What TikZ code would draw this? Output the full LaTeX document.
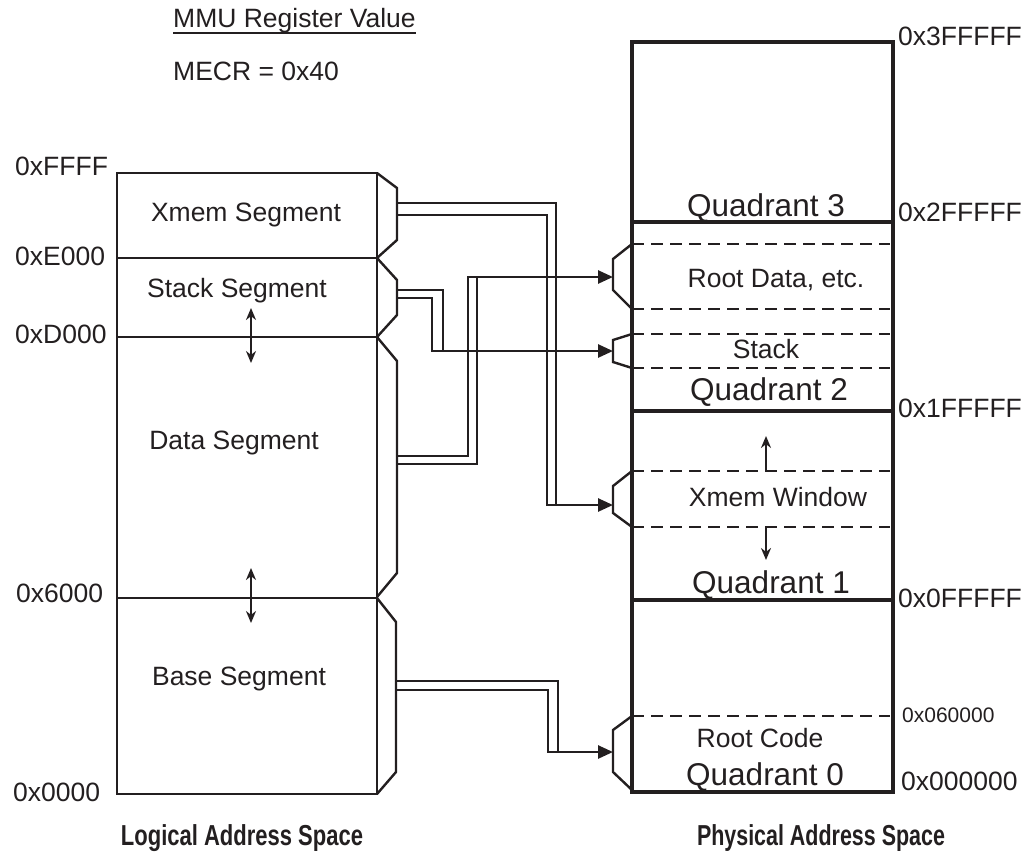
\documentclass[tikz,border=0pt]{standalone}
\usepackage{fontspec}
\setmainfont{Liberation Sans}
\usetikzlibrary{arrows.meta,calc}
\definecolor{ink}{RGB}{35,31,32}
\begin{document}
\begin{tikzpicture}[x=1pt,y=-1pt, color=ink,
  lbl/.style={font=\fontsize{26.5}{30}\selectfont, inner sep=0pt, anchor=base},
  addr/.style={lbl, anchor=base west},
  small/.style={font=\fontsize{21}{24}\selectfont, inner sep=0pt, anchor=base west},
  quad/.style={font=\fontsize{31.5}{36}\selectfont, inner sep=0pt, anchor=base},
  title/.style={font=\fontsize{27.5}{32}\selectfont\bfseries, inner sep=0pt, anchor=base},
  thinbox/.style={line width=1.8pt},
  bracket/.style={line width=2.4pt, line join=miter},
  bus/.style={line width=2.6pt},
  busarrow/.style={line width=2.6pt, -{Triangle[length=15pt,width=13pt]}},
  physbox/.style={line width=4.5pt},
  sep/.style={line width=1.7pt, dash pattern=on 12pt off 7pt},
  move/.style={line width=2pt, -{Stealth[length=12pt,width=10pt]}},
  moveboth/.style={line width=2pt, {Stealth[length=12pt,width=10pt]}-{Stealth[length=12pt,width=10pt]}}
]
\useasboundingbox (0,0) rectangle (1030,855);

% header
\node[addr] (mmu) at (173,27) {MMU Register Value};
\draw[line width=1.8pt] ([yshift=-6pt]mmu.base west) -- ([yshift=-6pt]mmu.base east);
\node[addr] (mecr) at (173,80) {MECR = 0x40};

% logical address space
\draw[thinbox] (117,173) rectangle (377,794);
\foreach \y in {258,337,598} \draw[thinbox] (117,\y) -- (377,\y);
\draw[bracket] (377,173) -- (397,188) -- (397,240) -- (377,258);
\draw[bracket] (377,258) -- (397,280) -- (397,315) -- (377,337);
\draw[bracket] (377,337) -- (397,361) -- (397,573) -- (377,597);
\draw[bracket] (377,598) -- (396,622) -- (396,772) -- (377,794);

\node[lbl] (xseg) at (246,221) {Xmem Segment};
\node[lbl] (sseg) at (237,297) {Stack Segment};
\node[lbl] (dseg) at (234,449) {Data Segment};
\node[lbl] (bseg) at (239,685) {Base Segment};

\node[addr] (aFFFF) at (15,175) {0xFFFF};
\node[addr] (aE000) at (15,265) {0xE000};
\node[addr] (aD000) at (15,343) {0xD000};
\node[addr] (a6000) at (16,602) {0x6000};
\node[addr] (a0000) at (13,801) {0x0000};

\draw[moveboth] (251,308) -- (251,363);
\draw[moveboth] (251,568) -- (251,623);

% physical address space
\foreach \y in {244,309,334,368,471,527,716} \draw[sep] (632,\y) -- (890,\y);
\draw[physbox] (632,42) rectangle (893,792);
\foreach \y in {222,411,600} \draw[physbox] (632,\y) -- (893,\y);

\draw[bracket] (632,244) -- (613,259) -- (613,290) -- (632,309);
\draw[bracket] (632,334) -- (613,340) -- (613,362) -- (632,368);
\draw[bracket] (632,471) -- (613,486) -- (613,513) -- (632,527);
\draw[bracket] (632,716) -- (613,730) -- (613,772) -- (632,790);

\node[quad] (q3) at (766,216) {Quadrant 3};
\node[lbl] (rootdata) at (776,287) {Root Data, etc.};
\node[lbl] (stack) at (766,358) {Stack};
\node[quad] (q2) at (769,400) {Quadrant 2};
\node[lbl] (xwin) at (778,506) {Xmem Window};
\node[quad] (q1) at (771,593) {Quadrant 1};
\node[lbl] (rootcode) at (760,747) {Root Code};
\node[quad] (q0) at (765,785) {Quadrant 0};

\node[addr] (p3) at (898,45) {0x3FFFFF};
\node[addr] (p2) at (898,221) {0x2FFFFF};
\node[addr] (p1) at (898,417) {0x1FFFFF};
\node[addr] (p0) at (898,607) {0x0FFFFF};
\node[small] (p06) at (902,722) {0x060000};
\node[addr] (pz) at (901,790) {0x000000};

\draw[move] (766,471) -- (766,436);
\draw[move] (766,527) -- (766,560);

% connectors
\coordinate (bXmem) at (397,209);
\coordinate (bStack) at (397,294);
\coordinate (bData) at (397,460);
\coordinate (bBase) at (397,685.5);
\coordinate (tRoot) at (613,277);
\coordinate (tStack) at (613,351);
\coordinate (tWin) at (613,505);
\coordinate (tCode) at (613,752);

\draw[bus] ($(bXmem)+(0,-6)$) -| ($(tWin)+(-57,0)$);
\draw[busarrow] ($(bXmem)+(0,6)$) -| ($(tWin)+(-66,0)$) -- (tWin);

\draw[bus] ($(bStack)+(0,-4)$) -| ($(tStack)+(-170,0)$);
\draw[busarrow] ($(bStack)+(0,4)$) -| ($(tStack)+(-181,0)$) -- (tStack);

\draw[bus] ($(bData)+(0,4)$) -| ($(tRoot)+(-136,0)$);
\draw[busarrow] ($(bData)+(0,-4)$) -| ($(tRoot)+(-145,0)$) -- (tRoot);

\draw[bus] ($(bBase)+(0,-4.5)$) -| ($(tCode)+(-55,0)$);
\draw[busarrow] ($(bBase)+(0,4.5)$) -| ($(tCode)+(-65,0)$) -- (tCode);

% titles
\node[title] (ltitle) at (242,845) {\scalebox{0.8}[1.05]{Logical Address Space}};
\node[title] (ptitle) at (821,845) {\scalebox{0.78}[1.05]{Physical Address Space}};
\end{tikzpicture}
\end{document}
